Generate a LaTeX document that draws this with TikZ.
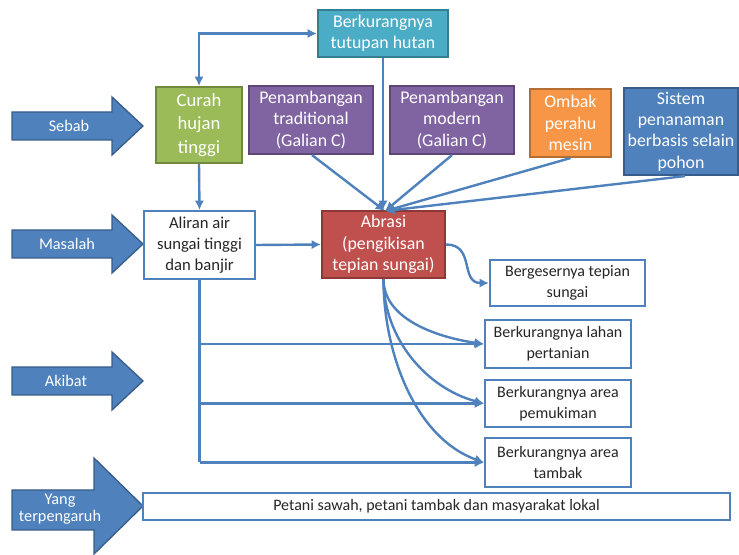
\documentclass[tikz,border=0pt]{standalone}
\usepackage{fontspec}
\setmainfont{Carlito}
\usetikzlibrary{arrows.meta}
\definecolor{tealF}{HTML}{4BACC6}\definecolor{tealD}{HTML}{357D91}
\definecolor{greenF}{HTML}{9BBB59}\definecolor{greenD}{HTML}{71893F}
\definecolor{purpF}{HTML}{8064A2}\definecolor{purpD}{HTML}{5C4776}
\definecolor{orgF}{HTML}{F79646}\definecolor{orgD}{HTML}{B66D31}
\definecolor{blueF}{HTML}{4F81BD}\definecolor{blueD}{HTML}{385D8A}
\definecolor{redF}{HTML}{C0504D}\definecolor{redD}{HTML}{8C3836}
\definecolor{txt}{HTML}{262626}
\begin{document}
\begin{tikzpicture}[x=0.75pt,y=-0.75pt,
  wh/.style 2 args={minimum width=#1*0.75pt,minimum height=#2*0.75pt},
  box/.style={draw,line width=1.6pt,inner sep=1pt,align=center,
    font=\fontsize{13.4}{16}\selectfont},
  colbox/.style 2 args={box,fill=#1,draw=#2,text=white},
  wbox/.style={box,fill=white,draw=blueF,text=txt,font=\fontsize{12}{15.6}\selectfont},
  tip/.tip={Latex[length=7pt,width=7pt]},
  link/.style={draw=blueF,line width=1.8pt,-tip},
  bigarrow/.style={fill=blueF,draw=blueD,line width=1pt,line join=miter},
  arrlabel/.style={text=white,align=center,font=\fontsize{12.2}{13}\selectfont}
]
\useasboundingbox (0,0) rectangle (739,555);

% side arrows marking each row
\draw[bigarrow] (12,112) -- (112,112) -- (112,97) -- (143,126) -- (112,155) -- (112,140) -- (12,140) -- cycle;
\draw[bigarrow] (12,230) -- (112,230) -- (112,215) -- (143,244) -- (112,273) -- (112,258) -- (12,258) -- cycle;
\draw[bigarrow] (12,367) -- (112,367) -- (112,352) -- (143,381) -- (112,410) -- (112,395) -- (12,395) -- cycle;
\draw[bigarrow] (12,490) -- (94,490) -- (94,458) -- (143,506) -- (94,554) -- (94,530) -- (12,530) -- cycle;
\node[arrlabel] (lsebab) at (69,126) {Sebab};
\node[arrlabel] (lmasalah) at (67,244) {Masalah};
\node[arrlabel] (lakibat) at (66,381) {Akibat};
\node[arrlabel] (lyang) at (60,509) {Yang\\terpengaruh};

% causes
\node[colbox={tealF}{tealD},wh={130}{47}] (hutan) at (383,33.5) {Berkurangnya\\tutupan hutan};
\node[colbox={greenF}{greenD},wh={86}{76},font=\fontsize{14}{17.5}\selectfont] (curah) at (199,125) {Curah\\hujan\\tinggi};
\node[colbox={purpF}{purpD},wh={124}{68}] (trad) at (311,120) {Penambangan\\traditional\\(Galian C)};
\node[colbox={purpF}{purpD},wh={124}{68}] (modern) at (452,120) {Penambangan\\modern\\(Galian C)};
\node[colbox={orgF}{orgD},wh={81}{68}] (ombak) at (570.5,123) {Ombak\\perahu\\mesin};
\node[colbox={blueF}{blueD},wh={114}{87}] (sistem) at (681,131.5) {Sistem\\penanaman\\berbasis selain\\pohon};

% problems
\node[wbox,wh={111}{68},font=\fontsize{12.5}{15.6}\selectfont] (aliran) at (199.5,245) {Aliran air\\sungai tinggi\\dan banjir};
\node[colbox={redF}{redD},wh={123}{67}] (abrasi) at (383.5,244.5) {Abrasi\\(pengikisan\\tepian sungai)};

% effects
\node[wbox,wh={155}{46}] (geser) at (567.5,283) {Bergesernya tepian\\sungai};
\node[wbox,wh={146}{48}] (lahan) at (558,344) {Berkurangnya lahan\\pertanian};
\node[wbox,wh={146}{47}] (mukim) at (558,403.5) {Berkurangnya area\\pemukiman};
\node[wbox,wh={146}{49}] (tambak) at (558,462.5) {Berkurangnya area\\tambak};

% affected groups
\node[wbox,wh={587}{27}] (orang) at (436.5,506.5) {Petani sawah, petani tambak dan masyarakat lokal};

% connectors
\coordinate (corner) at (curah.north |- hutan.west);
\draw[link,tip-tip] (curah.north) -- (corner) -- (hutan.west);
\draw[link] (hutan.south) -- (hutan.south |- abrasi.north);
\coordinate (abtop) at (385,211);
\draw[link] (trad.south) ++(1,0) -- (abtop);
\draw[link] (modern.south) -- (abtop);
\draw[link] (ombak.south) -- (abtop);
\draw[link] (sistem.south) ++(4,0) -- (abtop);
\draw[link] (curah.south) -- (aliran.north);
\draw[link] (aliran.east) -- (abrasi.west);
\draw[link] (abrasi.east) to[out=0,in=180,looseness=1.3] (geser.west);
\draw[link] (abrasi.south) to[out=-90,in=172,looseness=0.9] (lahan.west);
\draw[link] (abrasi.south) to[out=-90,in=165,looseness=0.95] (mukim.west);
\draw[link] (abrasi.south) to[out=-90,in=160,looseness=0.9] (tambak.west);
\draw[link,-] (aliran.south) -- (aliran.south |- tambak.west);
\draw[link] (aliran.south |- lahan.west) -- (lahan.west);
\draw[link] (aliran.south |- mukim.west) -- (mukim.west);
\draw[link] (aliran.south |- tambak.west) -- (tambak.west);
\end{tikzpicture}
\end{document}
